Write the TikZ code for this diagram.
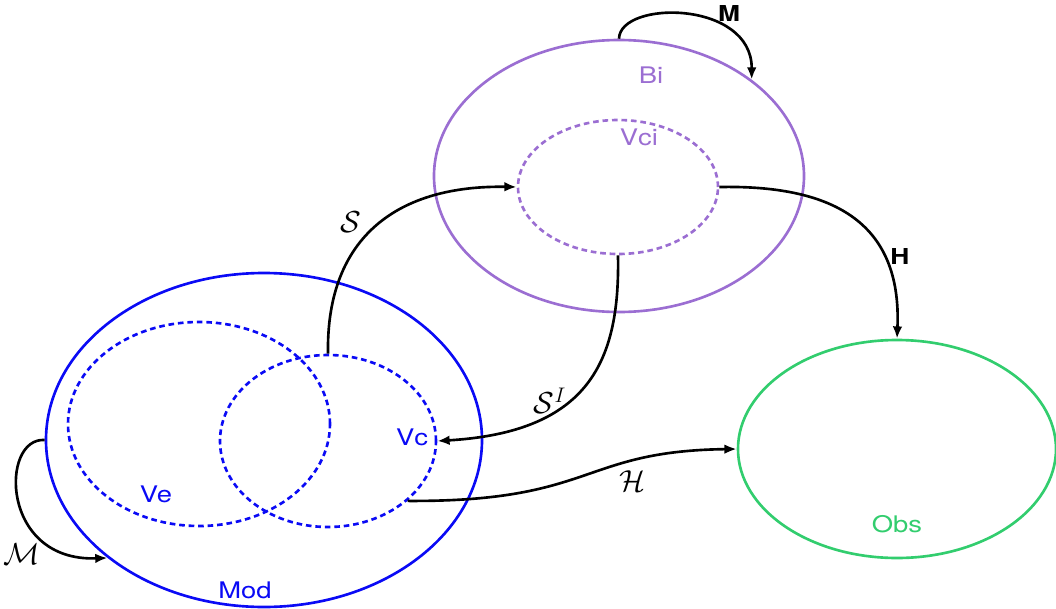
\documentclass[tikz,border=0pt]{standalone}
\usepackage{fontspec}
\setmainfont{TeX Gyre Heros}
\newfontfamily\widesans[FakeStretch=1.2]{TeX Gyre Heros}
\usetikzlibrary{shapes.geometric,arrows.meta}
\definecolor{cblue}{RGB}{10,10,245}
\definecolor{cpurple}{RGB}{155,110,210}
\definecolor{cgreen}{RGB}{50,205,110}
\tikzset{
  set/.style={ellipse, draw, line width=1.5pt, inner sep=0pt},
  sub/.style={ellipse, draw, line width=1.5pt, dash pattern=on 3.2pt off 2.2pt, inner sep=0pt},
  lab/.style={font=\widesans\fontsize{13}{15}\selectfont, inner sep=0pt},
  blab/.style={font=\widesans\fontsize{12.5}{15}\selectfont\bfseries, inner sep=0pt},
  mlab/.style={font=\fontsize{16.5}{19}\selectfont, inner sep=0pt},
  conn/.style={draw=black, line width=1.5pt, -{Latex[length=7pt,width=5.5pt]}}
}
\begin{document}
\begin{tikzpicture}[x=0.02cm,y=-0.02cm]
\useasboundingbox (0,0) rectangle (1056,609);
% main sets
\node[set, cblue, minimum width=436*0.02cm, minimum height=334*0.02cm] (mod) at (264,440) {};
\node[sub, cblue, minimum width=262*0.02cm, minimum height=204*0.02cm] (ve) at (199,424) {};
\node[sub, cblue, minimum width=216*0.02cm, minimum height=172*0.02cm] (vc) at (328,441) {};
\node[set, cpurple, minimum width=370*0.02cm, minimum height=272*0.02cm] (bi) at (619,176) {};
\node[sub, cpurple, minimum width=200*0.02cm, minimum height=134*0.02cm] (vci) at (618,187) {};
\node[set, cgreen, minimum width=318*0.02cm, minimum height=218*0.02cm] (obs) at (897,449) {};
% labels
\node[lab, text=cpurple] (tbi) at (651,75) {Bi};
\node[lab, text=cpurple] (tvci) at (639,137) {Vci};
\node[lab, text=cblue] (tvc) at (412,437) {Vc};
\node[lab, text=cblue] (tve) at (156,494) {Ve};
\node[lab, text=cblue] (tmod) at (245,590) {Mod};
\node[lab, text=cgreen] (tobs) at (897,524) {Obs};
% connectors
\draw[conn] (bi.90) .. controls (620,0) and (752,0) .. (bi.36);
\node[blab] (lM) at (729,13) {M};
\draw[conn] (vc.90) .. controls (326,235) and (400,185) .. (vci.180);
\node[mlab] (lS) at (351,222) {$\mathcal{S}$};
\draw[conn] (vci.270) .. controls (620,360) and (590,432) .. (vc.0);
\node[mlab] (lSI) at (550,401) {$\mathcal{S}^I$};
\draw[conn] (vci.0) .. controls (830,185) and (902,220) .. (obs.90);
\node[blab] (lH) at (900,256) {H};
\draw[conn] (vc.-37.5) .. controls (595,502) and (580,451) .. (obs.180);
\node[mlab] (lHc) at (632,481) {$\mathcal{H}$};
\draw[conn] (mod.180) .. controls (0,437) and (0,562) .. (mod.217);
\node[mlab] (lMc) at (22,554) {$\mathcal{M}$};
\end{tikzpicture}
\end{document}
